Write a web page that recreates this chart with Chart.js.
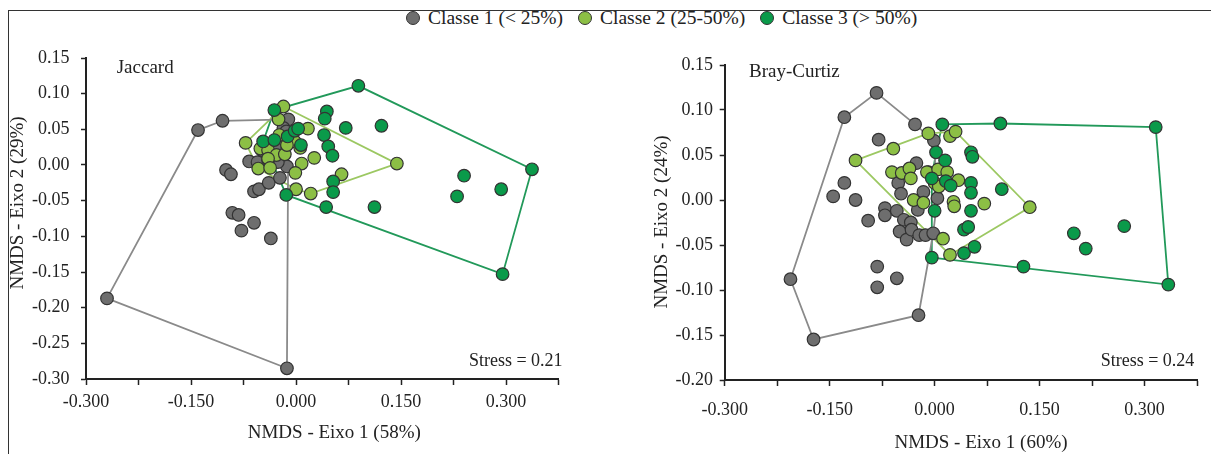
<!DOCTYPE html>
<html>
<head>
<meta charset="utf-8">
<script src="https://cdn.jsdelivr.net/npm/chart.js@4.4.0/dist/chart.umd.min.js"></script>
<style>
  body { margin: 0; background: #fff; width: 1211px; height: 454px; overflow: hidden; position: relative;
         font-family: "Liberation Serif", "Times New Roman", serif; color: #222; }
  #frame { position: absolute; left: 8px; top: 10px; width: 1220px; height: 460px;
           border-top: 1px solid #333; border-left: 1px solid #333; }
  #legend { position: absolute; top: 7px; left: 406px; display: flex; align-items: center;
            font-size: 19.5px; white-space: nowrap; line-height: 22px; }
  #legend .item { display: flex; align-items: center; margin-right: 15px; }
  #legend .dot { width: 12px; height: 12px; border-radius: 50%; border: 1px solid #333; margin-right: 8px; }
  canvas { position: absolute; top: 0; }
  #jaccard { left: 0; }
  #bray { left: 605px; }
</style>
</head>
<body>
<div id="frame"></div>
<div id="legend"></div>
<canvas id="jaccard" width="605" height="454"></canvas>
<canvas id="bray" width="606" height="454"></canvas>
<script>
// classes de cobertura
const classNames = ['Classe 1 (< 25%)', 'Classe 2 (25-50%)', 'Classe 3 (> 50%)'];
const classFill = ['#6e6e6e', '#8cbf45', '#0a9a4a'];
const hullColor = ['#8a8a8a', '#9cc862', '#22995a'];

// NMDS Jaccard: [eixo 1, eixo 2]
const jacClasse1 = [
  [-0.270, -0.187], [-0.140, 0.049], [-0.105, 0.062], [-0.013, -0.285], [-0.100, -0.007],
  [-0.093, -0.013], [-0.091, -0.067], [-0.082, -0.070], [-0.078, -0.092], [-0.060, -0.081],
  [-0.036, -0.103], [-0.060, -0.037], [-0.053, -0.034], [-0.039, -0.025], [-0.023, -0.018],
  [-0.067, 0.005], [-0.055, 0.004], [-0.011, 0.064], [-0.018, 0.052], [-0.013, -0.002],
  [-0.026, 0.004], [-0.040, 0.007], [-0.013, 0.035], [-0.014, 0.047], [-0.049, 0.021],
  [-0.030, 0.025]
];
const jacClasse2 = [
  [-0.018, 0.082], [-0.025, 0.064], [-0.072, 0.031], [0.017, 0.051], [0.026, 0.010],
  [0.008, 0.002], [-0.001, -0.011], [0.000, -0.034], [0.021, -0.040], [0.065, -0.013],
  [0.144, 0.002], [-0.051, 0.023], [-0.040, 0.021], [-0.028, 0.014], [-0.016, 0.015],
  [-0.040, 0.009], [-0.054, -0.005], [-0.037, -0.004], [-0.002, 0.033], [-0.013, 0.028],
  [-0.024, 0.042], [0.006, 0.024]
];
const jacClasse3 = [
  [-0.031, 0.077], [0.089, 0.111], [0.337, -0.006], [0.295, -0.153], [-0.014, -0.042],
  [0.044, 0.075], [0.041, 0.065], [0.071, 0.052], [0.122, 0.055], [0.040, 0.042],
  [0.046, 0.026], [0.052, 0.013], [0.053, -0.023], [0.053, -0.038], [0.043, -0.059],
  [0.112, -0.059], [0.240, -0.015], [0.230, -0.044], [0.293, -0.034], [-0.047, 0.033],
  [-0.031, 0.035], [-0.012, 0.040], [-0.002, 0.048], [0.003, 0.051], [0.007, 0.028]
];

// NMDS Bray-Curtis: [eixo 1, eixo 2]
const brayClasse1 = [
  [-0.083, 0.119], [-0.129, 0.092], [-0.028, 0.084], [-0.206, -0.088], [-0.173, -0.155],
  [-0.023, -0.128], [-0.080, 0.067], [-0.026, 0.041], [-0.129, 0.019], [-0.145, 0.004],
  [-0.113, 0.000], [-0.095, -0.023], [-0.071, -0.009], [-0.071, -0.017], [-0.054, -0.012],
  [-0.082, -0.074], [-0.082, -0.097], [-0.054, -0.087], [-0.052, 0.019], [-0.048, 0.007],
  [-0.044, -0.022], [-0.034, -0.025], [-0.050, -0.035], [-0.040, -0.044], [-0.033, -0.033],
  [-0.024, -0.011], [-0.016, 0.009], [-0.009, 0.031], [0.004, 0.002], [-0.022, -0.039],
  [-0.013, -0.039], [-0.002, -0.037], [-0.001, 0.066]
];
const brayClasse2 = [
  [-0.113, 0.044], [-0.059, 0.057], [-0.009, 0.074], [0.022, 0.071], [0.030, 0.076],
  [0.136, -0.008], [0.022, -0.061], [0.012, -0.043], [0.071, -0.004], [0.027, -0.002],
  [0.028, -0.007], [-0.061, 0.031], [-0.047, 0.030], [-0.036, 0.035], [-0.034, 0.024],
  [-0.030, 0.000], [-0.016, -0.003], [-0.011, 0.031], [0.005, 0.034], [0.000, 0.019],
  [0.018, 0.031], [0.018, 0.019], [0.034, 0.022], [0.006, 0.015]
];
const brayClasse3 = [
  [0.011, 0.084], [0.094, 0.085], [0.316, 0.081], [0.334, -0.094], [0.127, -0.074],
  [-0.004, -0.064], [0.199, -0.037], [0.216, -0.054], [0.271, -0.029], [0.096, 0.012],
  [0.052, 0.053], [0.054, 0.048], [0.002, 0.053], [0.015, 0.044], [-0.004, 0.024],
  [0.016, 0.021], [0.023, 0.016], [0.052, 0.019], [0.052, 0.008], [0.000, -0.012],
  [0.052, -0.012], [0.042, -0.033], [0.048, -0.030], [0.042, -0.059], [0.057, -0.052]
];

const jacStress = 0.21, brayStress = 0.24;
const jacAxisPct = [58, 29], brayAxisPct = [60, 24];
const xTickMin = -0.3, xTickMax = 0.375, xTickStep = 0.075;

Chart.defaults.font.family = '"Liberation Serif", "Times New Roman", serif';
Chart.defaults.color = '#222';

// legenda comum aos dois gráficos
const legend = document.getElementById('legend');
classNames.forEach((name, i) => {
  const item = document.createElement('div');
  item.className = 'item';
  item.innerHTML = '<span class="dot" style="background:' + classFill[i] + '"></span><span>' + name + '</span>';
  legend.appendChild(item);
});

function convexHull(pts) {
  const p = pts.map(([x, y]) => ({x, y})).sort((a, b) => a.x - b.x || a.y - b.y);
  const cross = (o, a, b) => (a.x - o.x) * (b.y - o.y) - (a.y - o.y) * (b.x - o.x);
  const lower = [], upper = [];
  for (const q of p) {
    while (lower.length >= 2 && cross(lower[lower.length - 2], lower[lower.length - 1], q) <= 0) lower.pop();
    lower.push(q);
  }
  for (const q of p.slice().reverse()) {
    while (upper.length >= 2 && cross(upper[upper.length - 2], upper[upper.length - 1], q) <= 0) upper.pop();
    upper.push(q);
  }
  lower.pop();
  upper.pop();
  const hull = lower.concat(upper);
  hull.push(hull[0]);
  return hull;
}

// textos dentro e em volta da área do gráfico
const nmdsText = {
  id: 'nmdsText',
  afterDraw(chart, args, o) {
    const {ctx, chartArea: a} = chart;
    ctx.save();
    ctx.fillStyle = '#222';
    ctx.textBaseline = 'middle';
    ctx.font = '19px "Liberation Serif"';
    ctx.textAlign = 'left';
    ctx.fillText(o.name, a.left + o.namePos[0], a.top + o.namePos[1]);
    ctx.font = '18px "Liberation Serif"';
    ctx.textAlign = 'right';
    ctx.fillText('Stress = ' + o.stress.toFixed(2), a.right + o.stressPos[0], a.bottom + o.stressPos[1]);
    ctx.font = '19px "Liberation Serif"';
    ctx.textAlign = 'center';
    ctx.fillText(o.xTitle, a.left + o.xTitlePos[0], a.bottom + o.xTitlePos[1]);
    ctx.translate(a.left + o.yTitlePos[0], o.yTitlePos[1]);
    ctx.rotate(-Math.PI / 2);
    ctx.fillText(o.yTitle, 0, 0);
    ctx.restore();
  }
};

function makeNmds(id, groups, cfg) {
  const datasets = [];
  groups.forEach((pts, i) => {
    datasets.push({
      data: pts.map(([x, y]) => ({x, y})),
      backgroundColor: classFill[i],
      borderColor: '#333',
      borderWidth: 1.2,
      pointRadius: 6.3,
      pointHoverRadius: 6.3,
      order: 3 - i
    });
  });
  groups.forEach((pts, i) => {
    datasets.push({
      data: convexHull(pts),
      showLine: true,
      borderColor: hullColor[i],
      borderWidth: 1.8,
      pointRadius: 0,
      pointHoverRadius: 0,
      fill: false,
      order: 10
    });
  });

  return new Chart(document.getElementById(id), {
    type: 'scatter',
    data: { datasets },
    options: {
      responsive: false,
      animation: false,
      layout: { padding: cfg.padding },
      plugins: {
        legend: { display: false },
        tooltip: { enabled: false },
        nmdsText: cfg.text
      },
      scales: {
        x: {
          min: xTickMin,
          max: xTickMax,
          afterFit: s => { s.height = cfg.xHeight; },
          border: { display: true, color: '#222', width: 2 },
          grid: { drawOnChartArea: false, tickLength: 6, tickColor: '#222', tickWidth: 1.5 },
          ticks: {
            stepSize: xTickStep,
            padding: cfg.xPad,
            maxRotation: 0,
            autoSkip: false,
            font: { size: 18 },
            color: '#222',
            callback: v => {
              if (Math.round(v / xTickStep) % 2 !== 0) return '';
              return (Math.abs(v) < 1e-9 ? 0 : v).toFixed(3);
            }
          }
        },
        y: {
          min: cfg.yMin,
          max: 0.15,
          afterFit: s => { s.width = cfg.yWidth; },
          border: { display: true, color: '#222', width: 2 },
          grid: { drawOnChartArea: false, tickLength: 5, tickColor: '#222', tickWidth: 1.5 },
          ticks: {
            stepSize: 0.05,
            padding: cfg.yPad,
            font: { size: 18 },
            color: '#222',
            callback: v => (Math.abs(v) < 1e-9 ? 0 : v).toFixed(2)
          }
        }
      }
    },
    plugins: [nmdsText]
  });
}

makeNmds('jaccard', [jacClasse1, jacClasse2, jacClasse3], {
  padding: { left: 0, top: 58, right: 46.4, bottom: 0 },
  xHeight: 75, yWidth: 86, xPad: 6, yPad: 11.5, yMin: -0.3,
  text: {
    name: 'Jaccard', namePos: [30.7, 10],
    stress: jacStress, stressPos: [4, -17.3],
    xTitle: 'NMDS - Eixo 1 (' + jacAxisPct[0] + '%)', xTitlePos: [248.3, 54],
    yTitle: 'NMDS - Eixo 2 (' + jacAxisPct[1] + '%)', yTitlePos: [-68, 203]
  }
});

makeNmds('bray', [brayClasse1, brayClasse2, brayClasse3], {
  padding: { left: 0, top: 65, right: 14, bottom: 0 },
  xHeight: 74, yWidth: 119.7, xPad: 13.2, yPad: 6.7, yMin: -0.2,
  text: {
    name: 'Bray-Curtiz', namePos: [24.3, 7],
    stress: brayStress, stressPos: [-2.7, -18.3],
    xTitle: 'NMDS - Eixo 1 (' + brayAxisPct[0] + '%)', xTitlePos: [256.3, 63],
    yTitle: 'NMDS - Eixo 2 (' + brayAxisPct[1] + '%)', yTitlePos: [-62.3, 222]
  }
});
</script>
</body>
</html>
